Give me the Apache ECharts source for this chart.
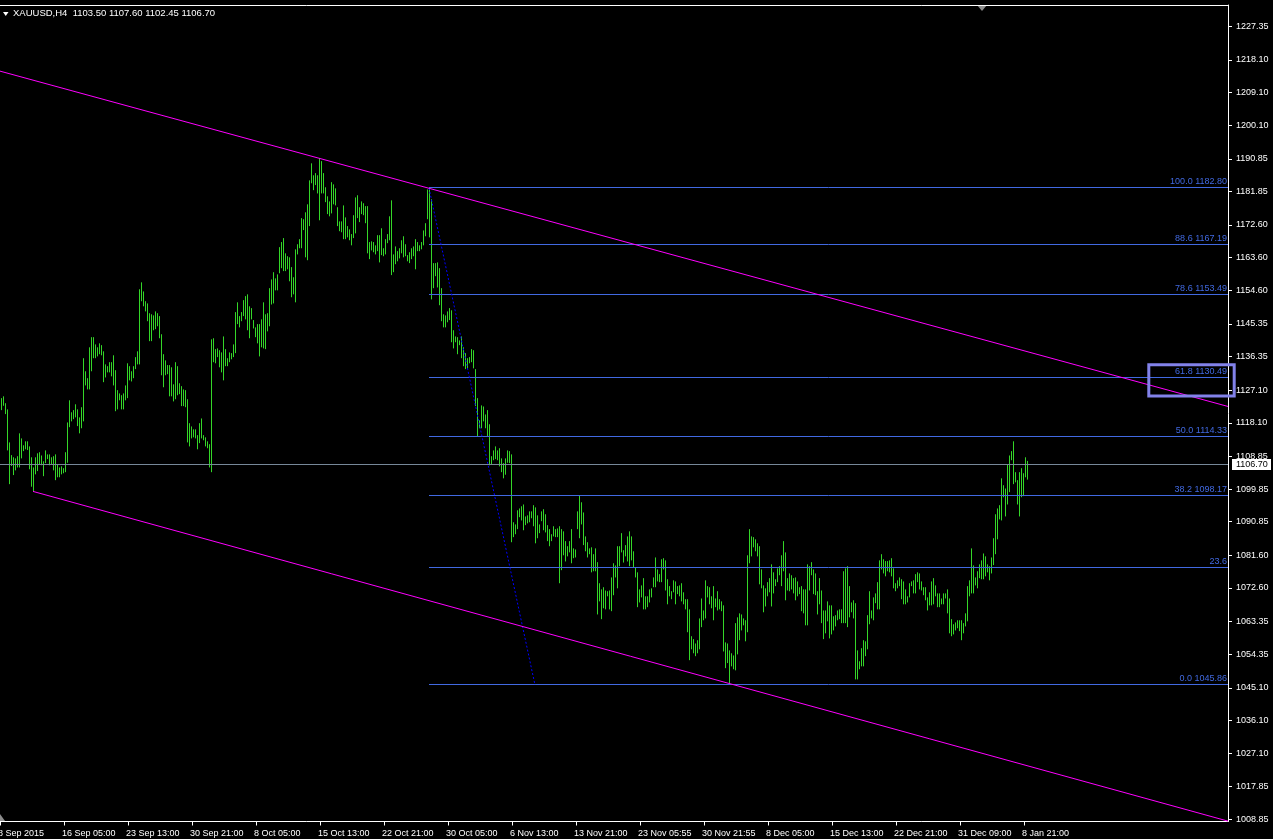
<!DOCTYPE html>
<html><head><meta charset="utf-8">
<script src="https://cdn.jsdelivr.net/npm/echarts@6/dist/echarts.min.js"></script>
<style>html,body{margin:0;padding:0;background:#000;}#c{width:1273px;height:839px;}</style>
</head><body><div id="c"></div>
<script>
const titleText = 'XAUUSD,H4  1103.50 1107.60 1102.45 1106.70';

const barHigh = [
1124.9,1125.4,1123.5,1121.8,1112.7,1109.2,1108.6,1108.3,1108.9,1115.2,
1113.8,1111.9,1113.0,1113.0,1111.6,1108.6,1105.8,1108.6,1109.7,1110.0,
1109.1,1107.5,1110.5,1109.4,1109.4,1108.6,1108.9,1109.4,1106.7,1105.8,
1106.1,1105.6,1110.0,1118.2,1124.3,1121.0,1121.6,1123.2,1121.8,1119.6,
1122.4,1135.9,1132.3,1130.4,1138.9,1141.7,1141.7,1139.7,1138.9,1140.0,
1139.5,1137.8,1134.2,1133.7,1134.8,1134.8,1136.7,1132.6,1127.1,1126.2,
1125.7,1126.2,1128.4,1134.5,1133.7,1132.3,1133.7,1136.2,1137.8,1154.9,
1156.8,1154.3,1151.6,1151.0,1148.3,1148.0,1147.7,1148.8,1148.3,1147.5,
1142.5,1137.0,1135.3,1134.0,1134.0,1133.4,1128.7,1134.8,1133.7,1129.0,
1128.2,1127.3,1127.1,1124.6,1118.0,1117.1,1116.3,1116.3,1114.7,1118.0,
1119.3,1114.7,1114.1,1113.0,1112.2,1141.1,1141.4,1138.4,1138.6,1138.1,
1137.5,1141.9,1138.4,1135.9,1137.5,1137.3,1139.7,1148.6,1151.3,1147.5,
1148.6,1151.9,1153.0,1153.5,1150.2,1149.7,1146.4,1144.4,1145.3,1145.3,
1146.6,1151.3,1148.0,1148.3,1155.2,1157.6,1159.6,1157.9,1159.0,1166.5,
1167.9,1169.0,1164.8,1164.0,1163.7,1161.0,1158.2,1165.9,1167.3,1168.7,
1174.5,1174.2,1176.1,1178.3,1184.9,1189.6,1186.3,1186.9,1186.3,1191.0,
1190.2,1186.9,1183.0,1180.5,1179.1,1184.4,1183.8,1182.7,1177.5,1173.6,
1173.6,1178.0,1174.7,1172.3,1171.4,1170.1,1175.3,1180.2,1180.8,1177.5,
1179.1,1178.6,1177.8,1177.8,1167.9,1168.1,1167.9,1167.0,1169.8,1169.8,
1171.7,1166.2,1168.7,1170.1,1175.0,1179.4,1164.5,1166.7,1165.4,1166.2,
1168.4,1169.5,1167.3,1164.3,1165.1,1166.2,1166.7,1168.7,1167.9,1167.0,
1167.9,1171.1,1173.1,1182.4,1182.8,1179.7,1162.1,1162.1,1162.3,1160.7,
1155.2,1148.0,1147.7,1148.8,1149.7,1149.1,1143.6,1141.9,1141.7,1140.8,
1141.9,1138.9,1137.3,1135.9,1136.2,1138.4,1138.1,1132.9,1124.9,1118.8,
1122.9,1122.6,1120.4,1121.6,1117.7,1108.9,1110.5,1111.6,1110.5,1111.1,
1108.3,1107.0,1108.3,1110.5,1110.3,1109.4,1090.7,1090.1,1094.0,1094.5,
1095.1,1095.6,1092.3,1092.6,1093.7,1093.7,1095.4,1094.8,1092.6,1090.1,
1093.7,1094.3,1092.9,1089.9,1088.8,1087.4,1089.6,1088.8,1089.0,1089.6,
1088.8,1088.2,1085.5,1084.1,1085.5,1088.8,1083.5,1083.2,1093.7,1098.1,
1096.2,1093.4,1086.8,1085.2,1083.5,1083.8,1081.9,1083.5,1079.7,1073.9,
1072.2,1072.8,1071.9,1071.7,1071.9,1075.5,1079.4,1078.8,1084.1,1084.1,
1087.7,1083.0,1084.4,1086.8,1088.2,1086.8,1082.7,1078.3,1076.9,1072.2,
1073.3,1075.3,1070.3,1070.3,1072.2,1072.5,1075.5,1081.0,1077.7,1076.4,
1080.5,1080.8,1080.2,1075.0,1073.1,1071.7,1074.7,1074.4,1073.1,1073.3,
1073.9,1071.4,1069.5,1069.5,1066.7,1059.3,1058.5,1057.3,1058.2,1064.2,
1069.7,1066.4,1074.7,1073.1,1072.8,1070.3,1073.1,1069.7,1071.7,1069.5,
1068.9,1067.8,1057.6,1057.3,1055.4,1054.6,1054.0,1062.9,1064.5,1065.6,
1065.3,1064.2,1063.7,1081.6,1088.8,1086.8,1086.6,1086.0,1084.9,1084.1,
1077.7,1073.3,1072.5,1074.2,1075.3,1079.1,1076.9,1075.0,1078.0,1078.6,
1081.6,1085.5,1082.4,1075.3,1076.6,1076.1,1075.3,1075.5,1074.4,1072.8,
1073.1,1072.2,1072.2,1079.1,1078.6,1079.7,1077.7,1076.6,1071.7,1075.3,
1071.9,1066.4,1066.4,1068.9,1067.8,1067.8,1064.8,1065.1,1066.4,1066.7,
1066.7,1077.2,1078.0,1078.6,1073.1,1068.6,1069.2,1068.4,1055.4,1052.4,
1056.0,1058.2,1057.9,1065.1,1071.7,1066.4,1070.0,1071.1,1074.2,1080.2,
1081.9,1080.5,1080.0,1080.0,1080.2,1080.8,1078.0,1073.9,1074.7,1075.5,
1075.0,1074.4,1072.2,1070.3,1073.9,1074.4,1074.7,1076.4,1076.9,1076.6,
1074.4,1072.8,1072.8,1070.0,1071.4,1074.4,1075.3,1073.3,1071.1,1071.1,
1069.7,1071.1,1071.1,1072.2,1069.7,1064.0,1062.6,1063.1,1063.7,1063.7,
1063.7,1062.9,1065.6,1073.1,1074.7,1083.5,1078.8,1075.5,1077.2,1079.1,
1080.2,1082.1,1081.3,1079.1,1078.6,1081.0,1086.3,1092.9,1094.5,1095.4,
1102.8,1100.9,1100.0,1106.7,1109.1,1110.3,1113.0,1104.5,1102.3,1104.5,
1105.6,1104.2,1108.6,1107.6
];

const barLow = [
1121.6,1122.8,1120.5,1110.5,1101.2,1106.2,1103.7,1105.0,1105.8,1105.8,
1108.3,1110.3,1110.8,1110.6,1105.3,1100.5,1099.2,1103.9,1104.8,1106.7,
1106.4,1103.4,1107.0,1108.1,1106.4,1106.7,1105.0,1102.3,1103.1,1103.1,
1103.9,1104.2,1104.5,1107.1,1116.9,1118.5,1119.1,1119.6,1117.2,1115.2,
1116.6,1118.5,1128.4,1127.3,1127.3,1132.3,1135.9,1135.9,1136.4,1137.0,
1136.7,1129.3,1130.6,1132.0,1132.0,1130.9,1128.4,1121.3,1121.8,1124.3,
1121.8,1121.8,1124.3,1124.9,1129.8,1129.5,1130.4,1132.9,1134.2,1134.2,
1151.6,1150.2,1148.8,1146.1,1140.6,1140.6,1143.6,1143.9,1144.7,1141.4,
1131.2,1127.9,1131.2,1131.5,1125.4,1125.4,1124.0,1124.6,1125.7,1126.0,
1122.7,1122.7,1122.4,1112.7,1111.6,1113.8,1114.1,1113.8,1110.8,1112.5,
1113.8,1113.3,1111.6,1111.1,1105.8,1104.5,1134.8,1134.5,1136.2,1133.4,
1132.0,1129.8,1133.7,1133.7,1134.8,1135.6,1136.2,1137.3,1145.3,1144.4,
1146.1,1147.5,1146.6,1143.6,1141.4,1146.6,1144.1,1141.7,1140.0,1136.4,
1138.9,1138.6,1138.4,1143.3,1144.7,1150.7,1151.0,1154.6,1154.6,1159.3,
1160.7,1159.9,1159.9,1160.4,1157.1,1152.7,1153.5,1151.3,1164.5,1166.2,
1166.2,1171.2,1163.7,1162.9,1172.3,1184.1,1182.2,1183.6,1181.3,1173.9,
1181.3,1181.3,1178.9,1175.6,1175.0,1175.8,1178.3,1178.0,1172.3,1170.9,
1170.6,1168.7,1168.7,1169.2,1168.4,1167.0,1169.0,1170.3,1174.5,1173.4,
1175.6,1175.3,1173.1,1164.8,1163.2,1165.6,1165.1,1164.5,1165.4,1162.3,
1164.3,1164.0,1164.5,1167.6,1168.4,1158.8,1159.6,1161.8,1162.6,1163.4,
1164.8,1163.7,1164.0,1162.6,1162.1,1163.2,1164.0,1160.4,1165.4,1165.4,
1165.9,1167.0,1169.5,1174.2,1169.2,1152.1,1155.2,1158.5,1155.4,1150.5,
1146.1,1144.4,1144.4,1145.8,1146.4,1140.3,1138.6,1140.3,1137.0,1139.5,
1135.9,1133.7,1132.9,1132.9,1134.5,1134.8,1133.1,1122.7,1114.4,1116.6,
1116.6,1118.5,1116.6,1114.4,1106.4,1106.7,1107.8,1108.1,1107.8,1106.1,
1104.5,1102.8,1103.8,1107.1,1107.0,1085.2,1086.6,1087.4,1088.8,1092.1,
1091.2,1088.5,1089.9,1090.4,1090.7,1091.8,1089.6,1084.9,1086.3,1087.7,
1091.0,1088.5,1087.9,1085.5,1084.1,1085.5,1086.8,1086.6,1086.6,1073.9,
1077.5,1081.6,1079.9,1081.3,1082.4,1079.4,1080.8,1081.0,1088.8,1086.3,
1090.1,1084.4,1082.7,1081.0,1081.9,1076.9,1077.2,1077.2,1065.3,1068.9,
1064.0,1067.0,1066.7,1070.3,1066.7,1066.2,1070.6,1075.5,1072.5,1078.6,
1082.4,1079.6,1081.3,1079.9,1078.6,1080.2,1078.3,1075.5,1067.3,1068.6,
1070.0,1066.7,1066.7,1067.3,1068.6,1070.0,1072.8,1072.8,1074.4,1074.2,
1074.2,1077.7,1071.9,1068.1,1070.3,1069.5,1071.4,1068.1,1070.9,1070.3,
1068.9,1068.1,1066.7,1060.4,1052.7,1055.7,1054.6,1053.8,1054.6,1055.7,
1061.8,1063.7,1064.2,1070.0,1068.1,1067.0,1063.7,1067.3,1066.4,1066.7,
1066.2,1055.1,1050.5,1051.9,1045.9,1051.0,1050.2,1049.9,1054.3,1058.2,
1060.9,1062.3,1057.9,1060.4,1079.4,1081.3,1083.8,1082.7,1081.3,1073.6,
1072.5,1065.9,1067.5,1070.3,1071.4,1067.5,1071.1,1073.1,1074.2,1076.1,
1073.1,1077.2,1069.2,1071.9,1071.7,1072.2,1071.1,1069.2,1070.3,1070.9,
1066.2,1065.6,1062.3,1062.3,1071.9,1076.1,1070.9,1070.6,1065.3,1068.1,
1062.9,1058.5,1060.1,1063.4,1058.7,1059.8,1060.9,1062.0,1063.7,1064.0,
1062.9,1062.9,1062.9,1061.8,1064.5,1065.9,1064.2,1047.4,1047.4,1050.2,
1051.0,1051.0,1053.8,1055.7,1062.6,1064.2,1063.7,1068.4,1066.7,1066.7,
1077.7,1076.6,1075.8,1077.2,1076.9,1075.8,1072.5,1071.7,1072.5,1073.1,
1069.5,1068.1,1068.1,1068.6,1070.0,1073.1,1071.1,1071.1,1074.2,1072.2,
1071.9,1070.6,1069.2,1066.4,1067.8,1067.8,1068.1,1070.3,1067.3,1067.3,
1068.1,1068.1,1069.7,1065.6,1060.1,1059.3,1059.8,1060.9,1061.5,1060.7,
1058.2,1060.1,1062.0,1063.4,1070.3,1071.1,1071.1,1073.3,1072.5,1075.3,
1075.0,1075.0,1075.8,1076.9,1074.7,1076.6,1078.9,1081.9,1086.0,1091.5,
1091.2,1097.6,1092.3,1095.6,1099.0,1107.8,1101.2,1101.7,1095.6,1092.3,
1097.6,1097.9,1103.1,1102.45
];

const xTickBars = [0,32,64,96,128,160,192,224,256,288,320,352,384,416,448,480,512];
const xTickLabels = ['8 Sep 2015','16 Sep 05:00','23 Sep 13:00','30 Sep 21:00','8 Oct 05:00','15 Oct 13:00','22 Oct 21:00','30 Oct 05:00','6 Nov 13:00','13 Nov 21:00','23 Nov 05:55','30 Nov 21:55','8 Dec 05:00','15 Dec 13:00','22 Dec 21:00','31 Dec 09:00','8 Jan 21:00'];
const yTickLabels = ['1008.85','1017.85','1027.10','1036.10','1045.10','1054.35','1063.35','1072.60','1081.60','1090.85','1099.85','1108.85','1118.10','1127.10','1136.35','1145.35','1154.60','1163.60','1172.60','1181.85','1190.85','1200.10','1209.10','1218.10','1227.35'];

const fibPrices = [1182.80,1167.19,1153.49,1130.49,1114.33,1098.17,1078.18,1045.86];
const fibLabels = ['100.0 1182.80','88.6 1167.19','78.6 1153.49','61.8 1130.49','50.0 1114.33','38.2 1098.17','23.6','0.0 1045.86'];
const fibStartBar = 214;
const fibTrend = [[214,1182.80],[267,1045.86]];
const upperChannel = [[-0.5,1215.0],[613.5,1122.6]];
const lowerChannel = [[16,1099.2],[613.5,1008.35]];
const lastPrice = 1106.70;
const boxCorners = [573.9,1134.1,616.6,1125.5];

const xMin = -0.5, xMax = 613.5, yMin = 1008.25, yMax = 1233.22;
const FONT = '"Liberation Sans", Arial, sans-serif';
const BAR = '#34d628', FIB = '#4169e1', MAG = '#ff00ff', GRAYLINE = '#778899';

const chart = echarts.init(document.getElementById('c'), null, {renderer:'canvas'});
const barData = barHigh.map((h,i)=>[i, barLow[i], h]);
const yTickValues = yTickLabels.map(Number);

chart.setOption({
  backgroundColor:'#000',
  animation:false,
  title:{text:titleText,left:13,top:8.5,padding:0,textStyle:{color:'#fff',fontSize:9.5,fontWeight:'normal',fontFamily:FONT}},
  grid:{left:0,right:45,top:5,bottom:17.5,containLabel:false},
  xAxis:[{
    type:'value',min:xMin,max:xMax,position:'bottom',
    axisLine:{show:true,onZero:false,lineStyle:{color:'#fff',width:1}},
    axisTick:{show:true,length:4,lineStyle:{color:'#fff'},customValues:xTickBars.map(b=>b-0.5)},
    axisLabel:{show:false},
    splitLine:{show:false}
  },{
    type:'value',min:xMin,max:xMax,position:'top',
    axisLine:{show:true,onZero:false,lineStyle:{color:'#fff',width:1}},
    axisTick:{show:false},axisLabel:{show:false},splitLine:{show:false}
  }],
  yAxis:{
    type:'value',min:yMin,max:yMax,position:'right',
    axisLine:{show:true,onZero:false,lineStyle:{color:'#fff',width:1}},
    axisTick:{show:true,length:4,lineStyle:{color:'#fff'},customValues:yTickValues},
    axisLabel:{show:true,customValues:yTickValues,margin:8,color:'#fff',fontSize:9,fontFamily:FONT,
      formatter:v=>v.toFixed(2)},
    splitLine:{show:false}
  },
  graphic:[
    {type:'polygon',shape:{points:[[3,12],[8.5,12],[5.75,16]]},style:{fill:'#fff'}},
    {type:'polygon',shape:{points:[[977,5],[987,5],[982,11]]},style:{fill:'#8c8c8c'}},
    {type:'polygon',shape:{points:[[0,814],[0,821],[5,821]]},style:{fill:'#8c8c8c'}}
  ],
  series:[
    {
      type:'custom',name:'bars',z:2,data:barData,
      renderItem:(params,api)=>{
        const a=api.coord([api.value(0),api.value(1)]);
        const b=api.coord([api.value(0),api.value(2)]);
        const x=Math.floor(a[0])+0.5;
        return {type:'line',shape:{x1:x,y1:a[1],x2:x,y2:b[1]},style:{stroke:BAR,lineWidth:1}};
      }
    },
    {
      type:'custom',name:'xlabels',z:3,clip:false,silent:true,data:xTickBars.map((b,i)=>[b,yMin,i]),
      renderItem:(params,api)=>{
        const p=api.coord([api.value(0)-0.5,api.value(1)]);
        return {type:'text',style:{text:xTickLabels[api.value(2)],x:p[0]-2,y:p[1]+8,align:'left',verticalAlign:'top',fill:'#fff',fontSize:9,fontFamily:FONT}};
      }
    },
    {
      type:'custom',name:'fib',z:4,data:fibPrices.map((p,i)=>[fibStartBar,p,xMax,i]),
      renderItem:(params,api)=>{
        const a=api.coord([api.value(0),api.value(1)]);
        const b=api.coord([api.value(2),api.value(1)]);
        const y=Math.floor(a[1])+0.5;
        return {type:'group',children:[
          {type:'line',shape:{x1:a[0],y1:y,x2:b[0],y2:y},style:{stroke:FIB,lineWidth:1}},
          {type:'text',style:{text:fibLabels[api.value(3)],x:b[0]-1,y:y-1,align:'right',verticalAlign:'bottom',fill:FIB,fontSize:9,fontFamily:FONT}}
        ]};
      }
    },
    {
      type:'line',name:'fibTrend',z:4,data:fibTrend,showSymbol:false,symbol:'none',silent:true,
      lineStyle:{color:'#0000ff',width:1,type:[2,2]}
    },
    {
      type:'line',name:'upper',z:5,data:upperChannel,showSymbol:false,symbol:'none',silent:true,
      lineStyle:{color:MAG,width:1}
    },
    {
      type:'line',name:'lower',z:5,data:lowerChannel,showSymbol:false,symbol:'none',silent:true,
      lineStyle:{color:MAG,width:1}
    },
    {
      type:'custom',name:'last',z:6,clip:false,data:[[xMin,lastPrice,xMax]],
      renderItem:(params,api)=>{
        const a=api.coord([api.value(0),api.value(1)]);
        const b=api.coord([api.value(2),api.value(1)]);
        const y=Math.floor(a[1])+0.5;
        return {type:'group',children:[
          {type:'line',shape:{x1:a[0],y1:y,x2:b[0],y2:y},style:{stroke:GRAYLINE,lineWidth:1}},
          {type:'rect',shape:{x:b[0]+4,y:y-5.5,width:39,height:11},style:{fill:'#fff'}},
          {type:'text',style:{text:lastPrice.toFixed(2),x:b[0]+8,y:y,align:'left',verticalAlign:'middle',fill:'#000',fontSize:9,fontFamily:FONT}}
        ]};
      }
    },
    {
      type:'custom',name:'box',z:7,clip:false,data:[boxCorners],
      renderItem:(params,api)=>{
        const a=api.coord([api.value(0),api.value(1)]);
        const b=api.coord([api.value(2),api.value(3)]);
        return {type:'rect',shape:{x:a[0],y:a[1],width:b[0]-a[0],height:b[1]-a[1]},style:{fill:'none',stroke:'#8282ea',lineWidth:3}};
      }
    }
  ]
});
</script></body></html>
